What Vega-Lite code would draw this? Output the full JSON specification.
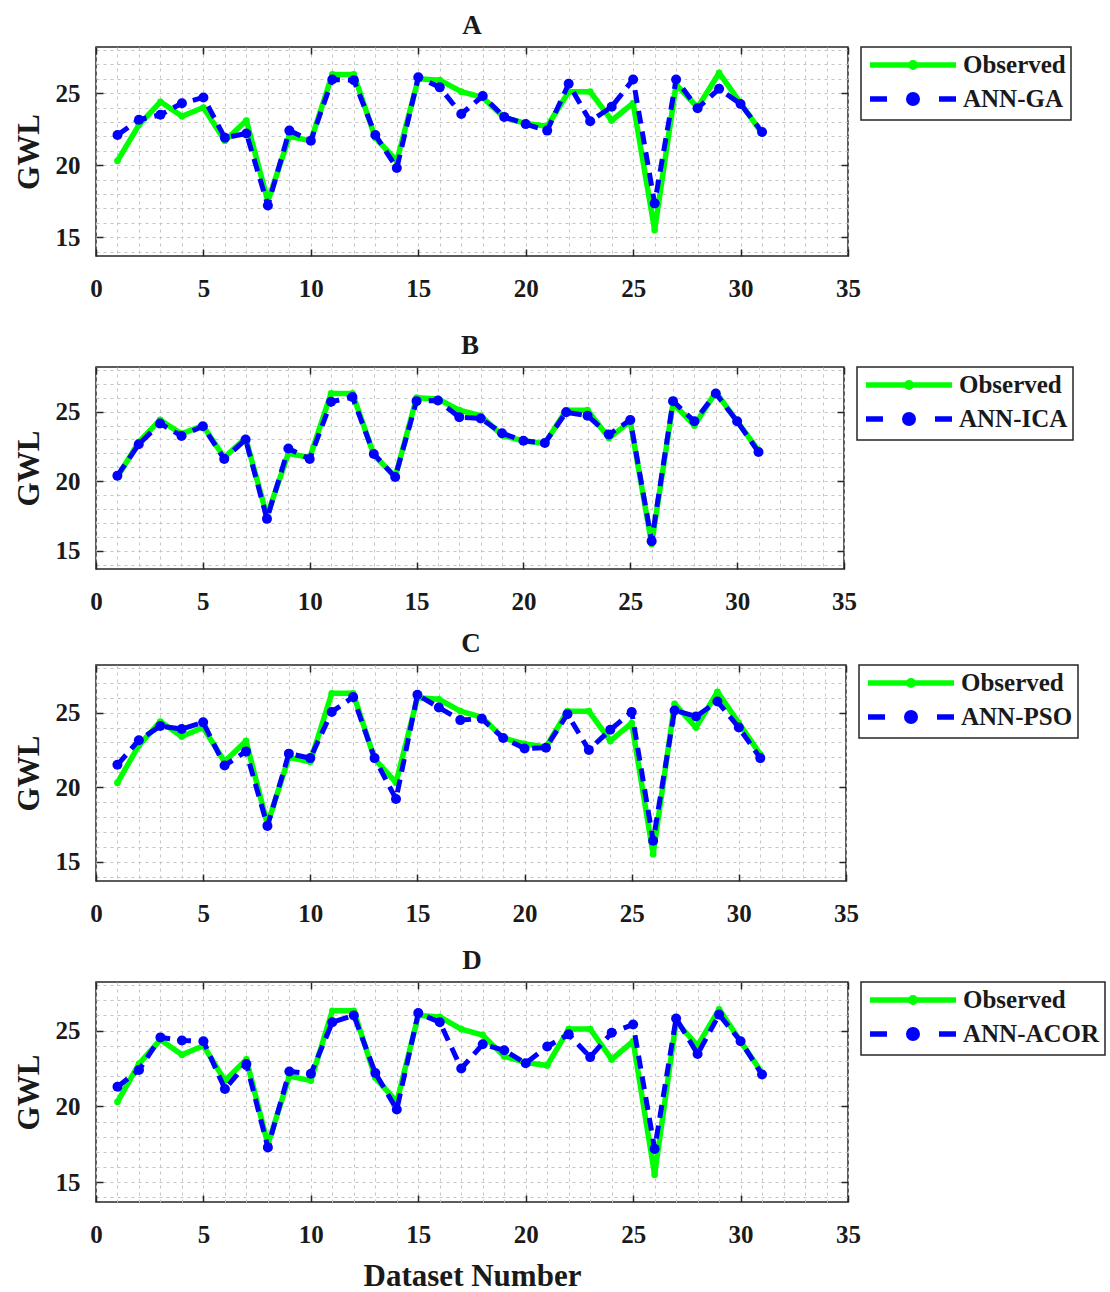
{
  "$schema": "https://vega.github.io/schema/vega-lite/v6.json",
  "padding": {"left": 12, "top": 11, "right": 0, "bottom": 0},
  "datasets": {
    "obs": [
      {"i":1,"s":"Observed","v":20.3},{"i":2,"s":"Observed","v":22.8},{"i":3,"s":"Observed","v":24.4},{"i":4,"s":"Observed","v":23.4},{"i":5,"s":"Observed","v":24.0},{"i":6,"s":"Observed","v":21.7},{"i":7,"s":"Observed","v":23.1},{"i":8,"s":"Observed","v":17.5},{"i":9,"s":"Observed","v":22.0},{"i":10,"s":"Observed","v":21.7},{"i":11,"s":"Observed","v":26.3},{"i":12,"s":"Observed","v":26.3},{"i":13,"s":"Observed","v":21.9},{"i":14,"s":"Observed","v":20.3},{"i":15,"s":"Observed","v":26.0},{"i":16,"s":"Observed","v":25.9},{"i":17,"s":"Observed","v":25.1},{"i":18,"s":"Observed","v":24.7},{"i":19,"s":"Observed","v":23.3},{"i":20,"s":"Observed","v":22.9},{"i":21,"s":"Observed","v":22.7},{"i":22,"s":"Observed","v":25.1},{"i":23,"s":"Observed","v":25.1},{"i":24,"s":"Observed","v":23.1},{"i":25,"s":"Observed","v":24.3},{"i":26,"s":"Observed","v":15.5},{"i":27,"s":"Observed","v":25.6},{"i":28,"s":"Observed","v":24.0},{"i":29,"s":"Observed","v":26.4},{"i":30,"s":"Observed","v":24.3},{"i":31,"s":"Observed","v":22.2}
    ],
    "ga": [
      {"i":1,"s":"ANN-GA","v":22.1},{"i":2,"s":"ANN-GA","v":23.15},{"i":3,"s":"ANN-GA","v":23.5},{"i":4,"s":"ANN-GA","v":24.3},{"i":5,"s":"ANN-GA","v":24.7},{"i":6,"s":"ANN-GA","v":21.9},{"i":7,"s":"ANN-GA","v":22.2},{"i":8,"s":"ANN-GA","v":17.2},{"i":9,"s":"ANN-GA","v":22.4},{"i":10,"s":"ANN-GA","v":21.7},{"i":11,"s":"ANN-GA","v":25.95},{"i":12,"s":"ANN-GA","v":25.9},{"i":13,"s":"ANN-GA","v":22.1},{"i":14,"s":"ANN-GA","v":19.8},{"i":15,"s":"ANN-GA","v":26.1},{"i":16,"s":"ANN-GA","v":25.4},{"i":17,"s":"ANN-GA","v":23.55},{"i":18,"s":"ANN-GA","v":24.8},{"i":19,"s":"ANN-GA","v":23.35},{"i":20,"s":"ANN-GA","v":22.85},{"i":21,"s":"ANN-GA","v":22.4},{"i":22,"s":"ANN-GA","v":25.65},{"i":23,"s":"ANN-GA","v":23.05},{"i":24,"s":"ANN-GA","v":24.05},{"i":25,"s":"ANN-GA","v":25.95},{"i":26,"s":"ANN-GA","v":17.35},{"i":27,"s":"ANN-GA","v":25.95},{"i":28,"s":"ANN-GA","v":23.95},{"i":29,"s":"ANN-GA","v":25.3},{"i":30,"s":"ANN-GA","v":24.25},{"i":31,"s":"ANN-GA","v":22.3}
    ],
    "ica": [
      {"i":1,"s":"ANN-ICA","v":20.4},{"i":2,"s":"ANN-ICA","v":22.65},{"i":3,"s":"ANN-ICA","v":24.15},{"i":4,"s":"ANN-ICA","v":23.25},{"i":5,"s":"ANN-ICA","v":23.95},{"i":6,"s":"ANN-ICA","v":21.6},{"i":7,"s":"ANN-ICA","v":23.0},{"i":8,"s":"ANN-ICA","v":17.3},{"i":9,"s":"ANN-ICA","v":22.35},{"i":10,"s":"ANN-ICA","v":21.6},{"i":11,"s":"ANN-ICA","v":25.7},{"i":12,"s":"ANN-ICA","v":26.05},{"i":13,"s":"ANN-ICA","v":21.95},{"i":14,"s":"ANN-ICA","v":20.3},{"i":15,"s":"ANN-ICA","v":25.75},{"i":16,"s":"ANN-ICA","v":25.8},{"i":17,"s":"ANN-ICA","v":24.6},{"i":18,"s":"ANN-ICA","v":24.5},{"i":19,"s":"ANN-ICA","v":23.45},{"i":20,"s":"ANN-ICA","v":22.9},{"i":21,"s":"ANN-ICA","v":22.75},{"i":22,"s":"ANN-ICA","v":24.95},{"i":23,"s":"ANN-ICA","v":24.7},{"i":24,"s":"ANN-ICA","v":23.35},{"i":25,"s":"ANN-ICA","v":24.4},{"i":26,"s":"ANN-ICA","v":15.7},{"i":27,"s":"ANN-ICA","v":25.75},{"i":28,"s":"ANN-ICA","v":24.3},{"i":29,"s":"ANN-ICA","v":26.3},{"i":30,"s":"ANN-ICA","v":24.3},{"i":31,"s":"ANN-ICA","v":22.1}
    ],
    "pso": [
      {"i":1,"s":"ANN-PSO","v":21.5},{"i":2,"s":"ANN-PSO","v":23.15},{"i":3,"s":"ANN-PSO","v":24.1},{"i":4,"s":"ANN-PSO","v":23.9},{"i":5,"s":"ANN-PSO","v":24.35},{"i":6,"s":"ANN-PSO","v":21.45},{"i":7,"s":"ANN-PSO","v":22.4},{"i":8,"s":"ANN-PSO","v":17.4},{"i":9,"s":"ANN-PSO","v":22.25},{"i":10,"s":"ANN-PSO","v":21.95},{"i":11,"s":"ANN-PSO","v":25.05},{"i":12,"s":"ANN-PSO","v":26.05},{"i":13,"s":"ANN-PSO","v":21.95},{"i":14,"s":"ANN-PSO","v":19.2},{"i":15,"s":"ANN-PSO","v":26.2},{"i":16,"s":"ANN-PSO","v":25.35},{"i":17,"s":"ANN-PSO","v":24.5},{"i":18,"s":"ANN-PSO","v":24.6},{"i":19,"s":"ANN-PSO","v":23.3},{"i":20,"s":"ANN-PSO","v":22.6},{"i":21,"s":"ANN-PSO","v":22.65},{"i":22,"s":"ANN-PSO","v":24.9},{"i":23,"s":"ANN-PSO","v":22.5},{"i":24,"s":"ANN-PSO","v":23.85},{"i":25,"s":"ANN-PSO","v":25.05},{"i":26,"s":"ANN-PSO","v":16.4},{"i":27,"s":"ANN-PSO","v":25.15},{"i":28,"s":"ANN-PSO","v":24.75},{"i":29,"s":"ANN-PSO","v":25.75},{"i":30,"s":"ANN-PSO","v":24.0},{"i":31,"s":"ANN-PSO","v":21.95}
    ],
    "acor": [
      {"i":1,"s":"ANN-ACOR","v":21.3},{"i":2,"s":"ANN-ACOR","v":22.4},{"i":3,"s":"ANN-ACOR","v":24.55},{"i":4,"s":"ANN-ACOR","v":24.35},{"i":5,"s":"ANN-ACOR","v":24.3},{"i":6,"s":"ANN-ACOR","v":21.15},{"i":7,"s":"ANN-ACOR","v":22.8},{"i":8,"s":"ANN-ACOR","v":17.3},{"i":9,"s":"ANN-ACOR","v":22.3},{"i":10,"s":"ANN-ACOR","v":22.15},{"i":11,"s":"ANN-ACOR","v":25.55},{"i":12,"s":"ANN-ACOR","v":26.0},{"i":13,"s":"ANN-ACOR","v":22.2},{"i":14,"s":"ANN-ACOR","v":19.8},{"i":15,"s":"ANN-ACOR","v":26.15},{"i":16,"s":"ANN-ACOR","v":25.55},{"i":17,"s":"ANN-ACOR","v":22.5},{"i":18,"s":"ANN-ACOR","v":24.1},{"i":19,"s":"ANN-ACOR","v":23.7},{"i":20,"s":"ANN-ACOR","v":22.85},{"i":21,"s":"ANN-ACOR","v":23.95},{"i":22,"s":"ANN-ACOR","v":24.75},{"i":23,"s":"ANN-ACOR","v":23.25},{"i":24,"s":"ANN-ACOR","v":24.85},{"i":25,"s":"ANN-ACOR","v":25.4},{"i":26,"s":"ANN-ACOR","v":17.2},{"i":27,"s":"ANN-ACOR","v":25.8},{"i":28,"s":"ANN-ACOR","v":23.45},{"i":29,"s":"ANN-ACOR","v":26.05},{"i":30,"s":"ANN-ACOR","v":24.3},{"i":31,"s":"ANN-ACOR","v":22.1}
    ]
  },
  "concat": [
    {
      "width": 752, "height": 209,
      "title": {"text": "A"},
      "layer": [
        {"data": {"name": "obs"}, "mark": {"type": "line", "strokeWidth": 5.5, "strokeJoin": "round"},
         "encoding": {
           "x": {"field": "i", "type": "quantitative", "scale": {"domain": [0, 35], "nice": false, "zero": false},
                 "axis": {"orient": "bottom", "values": [0,1,2,3,4,5,6,7,8,9,10,11,12,13,14,15,16,17,18,19,20,21,22,23,24,25,26,27,28,29,30,31,32,33,34,35], "labelExpr": "datum.value % 5 === 0 ? datum.label : ''", "tickOpacity": {"condition": {"test": "datum.value % 5 === 0", "value": 1}, "value": 0}, "title": " ", "titleFontSize": 10, "titlePadding": 5, "titleOpacity": 0}},
           "y": {"field": "v", "type": "quantitative", "scale": {"domain": [13.7, 28.2], "nice": false, "zero": false},
                 "axis": {"orient": "left", "values": [14,15,16,17,18,19,20,21,22,23,24,25,26,27,28], "labelExpr": "datum.value % 5 === 0 ? datum.label : ''", "tickOpacity": {"condition": {"test": "datum.value % 5 === 0", "value": 1}, "value": 0}, "title": "GWL", "titlePadding": 10}},
           "color": {"field": "s", "type": "nominal", "scale": {"domain": ["Observed", "ANN-GA"], "range": ["#00ff00", "#0000ff"]},
                     "legend": {"orient": "right", "offset": 12, "title": null, "padding": 5, "strokeColor": "#262626", "fillColor": "#ffffff", "labelFont": "Liberation Serif", "labelFontSize": 25, "labelFontWeight": "bold", "labelColor": "#1a1a1a", "labelLimit": 400, "symbolSize": 400, "symbolStrokeWidth": 5.5, "symbolOffset": 34, "labelOffset": 37, "rowPadding": 4,
                                "encoding": {"symbols": {"shape": {"condition": {"test": "datum.value === 'Observed'", "value": "M-4.3,0H4.3M0.225,0A0.225,0.225 0 1,1 -0.225,0A0.225,0.225 0 1,1 0.225,0Z"}, "value": "M-4.3,0H-2.6M2.6,0H4.3M0.425,0A0.425,0.425 0 1,1 -0.425,0A0.425,0.425 0 1,1 0.425,0Z"}, "fill": {"condition": {"test": "datum.value === 'Observed'", "value": "#00ff00"}, "value": "#0000ff"}, "fillOpacity": {"value": 1}}, "legend": {"strokeWidth": {"value": 1.5}}}}}
         }},
        {"data": {"name": "obs"}, "mark": {"type": "point", "filled": true, "size": 45, "color": "#00ff00", "opacity": 1},
         "encoding": {
           "x": {"field": "i", "type": "quantitative", "axis": {"orient": "top", "values": [0,5,10,15,20,25,30,35], "labels": false, "grid": false, "title": null}},
           "y": {"field": "v", "type": "quantitative", "axis": {"orient": "right", "values": [15,20,25], "labels": false, "grid": false, "title": null}}
         }},
        {"data": {"name": "ga"}, "mark": {"type": "line", "strokeWidth": 5, "strokeDash": [13, 8], "strokeJoin": "round"},
         "encoding": {
           "x": {"field": "i", "type": "quantitative", "axis": null},
           "y": {"field": "v", "type": "quantitative", "axis": null},
           "color": {"field": "s", "type": "nominal"}
         }},
        {"data": {"name": "ga"}, "mark": {"type": "point", "filled": true, "size": 100, "color": "#0000ff", "opacity": 1},
         "encoding": {
           "x": {"field": "i", "type": "quantitative", "axis": null},
           "y": {"field": "v", "type": "quantitative", "axis": null}
         }}
      ],
      "resolve": {"axis": {"x": "independent", "y": "independent"}}
    },
    {
      "width": 748, "height": 202,
      "title": {"text": "B"},
      "layer": [
        {"data": {"name": "obs"}, "mark": {"type": "line", "strokeWidth": 5.5, "strokeJoin": "round"},
         "encoding": {
           "x": {"field": "i", "type": "quantitative", "scale": {"domain": [0, 35], "nice": false, "zero": false},
                 "axis": {"orient": "bottom", "values": [0,1,2,3,4,5,6,7,8,9,10,11,12,13,14,15,16,17,18,19,20,21,22,23,24,25,26,27,28,29,30,31,32,33,34,35], "labelExpr": "datum.value % 5 === 0 ? datum.label : ''", "tickOpacity": {"condition": {"test": "datum.value % 5 === 0", "value": 1}, "value": 0}, "title": null}},
           "y": {"field": "v", "type": "quantitative", "scale": {"domain": [13.7, 28.2], "nice": false, "zero": false},
                 "axis": {"orient": "left", "values": [14,15,16,17,18,19,20,21,22,23,24,25,26,27,28], "labelExpr": "datum.value % 5 === 0 ? datum.label : ''", "tickOpacity": {"condition": {"test": "datum.value % 5 === 0", "value": 1}, "value": 0}, "title": "GWL", "titlePadding": 10}},
           "color": {"field": "s", "type": "nominal", "scale": {"domain": ["Observed", "ANN-ICA"], "range": ["#00ff00", "#0000ff"]},
                     "legend": {"orient": "right", "offset": 12, "title": null, "padding": 5, "strokeColor": "#262626", "fillColor": "#ffffff", "labelFont": "Liberation Serif", "labelFontSize": 25, "labelFontWeight": "bold", "labelColor": "#1a1a1a", "labelLimit": 400, "symbolSize": 400, "symbolStrokeWidth": 5.5, "symbolOffset": 34, "labelOffset": 37, "rowPadding": 4,
                                "encoding": {"symbols": {"shape": {"condition": {"test": "datum.value === 'Observed'", "value": "M-4.3,0H4.3M0.225,0A0.225,0.225 0 1,1 -0.225,0A0.225,0.225 0 1,1 0.225,0Z"}, "value": "M-4.3,0H-2.6M2.6,0H4.3M0.425,0A0.425,0.425 0 1,1 -0.425,0A0.425,0.425 0 1,1 0.425,0Z"}, "fill": {"condition": {"test": "datum.value === 'Observed'", "value": "#00ff00"}, "value": "#0000ff"}, "fillOpacity": {"value": 1}}, "legend": {"strokeWidth": {"value": 1.5}}}}}
         }},
        {"data": {"name": "obs"}, "mark": {"type": "point", "filled": true, "size": 45, "color": "#00ff00", "opacity": 1},
         "encoding": {
           "x": {"field": "i", "type": "quantitative", "axis": {"orient": "top", "values": [0,5,10,15,20,25,30,35], "labels": false, "grid": false, "title": null}},
           "y": {"field": "v", "type": "quantitative", "axis": {"orient": "right", "values": [15,20,25], "labels": false, "grid": false, "title": null}}
         }},
        {"data": {"name": "ica"}, "mark": {"type": "line", "strokeWidth": 5, "strokeDash": [13, 8], "strokeJoin": "round"},
         "encoding": {
           "x": {"field": "i", "type": "quantitative", "axis": null},
           "y": {"field": "v", "type": "quantitative", "axis": null},
           "color": {"field": "s", "type": "nominal"}
         }},
        {"data": {"name": "ica"}, "mark": {"type": "point", "filled": true, "size": 100, "color": "#0000ff", "opacity": 1},
         "encoding": {
           "x": {"field": "i", "type": "quantitative", "axis": null},
           "y": {"field": "v", "type": "quantitative", "axis": null}
         }}
      ],
      "resolve": {"axis": {"x": "independent", "y": "independent"}}
    },
    {
      "width": 750, "height": 216,
      "title": {"text": "C"},
      "layer": [
        {"data": {"name": "obs"}, "mark": {"type": "line", "strokeWidth": 5.5, "strokeJoin": "round"},
         "encoding": {
           "x": {"field": "i", "type": "quantitative", "scale": {"domain": [0, 35], "nice": false, "zero": false},
                 "axis": {"orient": "bottom", "values": [0,1,2,3,4,5,6,7,8,9,10,11,12,13,14,15,16,17,18,19,20,21,22,23,24,25,26,27,28,29,30,31,32,33,34,35], "labelExpr": "datum.value % 5 === 0 ? datum.label : ''", "tickOpacity": {"condition": {"test": "datum.value % 5 === 0", "value": 1}, "value": 0}, "title": " ", "titleFontSize": 1, "titlePadding": 4, "titleOpacity": 0}},
           "y": {"field": "v", "type": "quantitative", "scale": {"domain": [13.7, 28.2], "nice": false, "zero": false},
                 "axis": {"orient": "left", "values": [14,15,16,17,18,19,20,21,22,23,24,25,26,27,28], "labelExpr": "datum.value % 5 === 0 ? datum.label : ''", "tickOpacity": {"condition": {"test": "datum.value % 5 === 0", "value": 1}, "value": 0}, "title": "GWL", "titlePadding": 10}},
           "color": {"field": "s", "type": "nominal", "scale": {"domain": ["Observed", "ANN-PSO"], "range": ["#00ff00", "#0000ff"]},
                     "legend": {"orient": "right", "offset": 12, "title": null, "padding": 5, "strokeColor": "#262626", "fillColor": "#ffffff", "labelFont": "Liberation Serif", "labelFontSize": 25, "labelFontWeight": "bold", "labelColor": "#1a1a1a", "labelLimit": 400, "symbolSize": 400, "symbolStrokeWidth": 5.5, "symbolOffset": 34, "labelOffset": 37, "rowPadding": 4,
                                "encoding": {"symbols": {"shape": {"condition": {"test": "datum.value === 'Observed'", "value": "M-4.3,0H4.3M0.225,0A0.225,0.225 0 1,1 -0.225,0A0.225,0.225 0 1,1 0.225,0Z"}, "value": "M-4.3,0H-2.6M2.6,0H4.3M0.425,0A0.425,0.425 0 1,1 -0.425,0A0.425,0.425 0 1,1 0.425,0Z"}, "fill": {"condition": {"test": "datum.value === 'Observed'", "value": "#00ff00"}, "value": "#0000ff"}, "fillOpacity": {"value": 1}}, "legend": {"strokeWidth": {"value": 1.5}}}}}
         }},
        {"data": {"name": "obs"}, "mark": {"type": "point", "filled": true, "size": 45, "color": "#00ff00", "opacity": 1},
         "encoding": {
           "x": {"field": "i", "type": "quantitative", "axis": {"orient": "top", "values": [0,5,10,15,20,25,30,35], "labels": false, "grid": false, "title": null}},
           "y": {"field": "v", "type": "quantitative", "axis": {"orient": "right", "values": [15,20,25], "labels": false, "grid": false, "title": null}}
         }},
        {"data": {"name": "pso"}, "mark": {"type": "line", "strokeWidth": 5, "strokeDash": [13, 8], "strokeJoin": "round"},
         "encoding": {
           "x": {"field": "i", "type": "quantitative", "axis": null},
           "y": {"field": "v", "type": "quantitative", "axis": null},
           "color": {"field": "s", "type": "nominal"}
         }},
        {"data": {"name": "pso"}, "mark": {"type": "point", "filled": true, "size": 100, "color": "#0000ff", "opacity": 1},
         "encoding": {
           "x": {"field": "i", "type": "quantitative", "axis": null},
           "y": {"field": "v", "type": "quantitative", "axis": null}
         }}
      ],
      "resolve": {"axis": {"x": "independent", "y": "independent"}}
    },
    {
      "width": 752, "height": 220,
      "title": {"text": "D"},
      "layer": [
        {"data": {"name": "obs"}, "mark": {"type": "line", "strokeWidth": 5.5, "strokeJoin": "round"},
         "encoding": {
           "x": {"field": "i", "type": "quantitative", "scale": {"domain": [0, 35], "nice": false, "zero": false},
                 "axis": {"orient": "bottom", "values": [0,1,2,3,4,5,6,7,8,9,10,11,12,13,14,15,16,17,18,19,20,21,22,23,24,25,26,27,28,29,30,31,32,33,34,35], "labelExpr": "datum.value % 5 === 0 ? datum.label : ''", "tickOpacity": {"condition": {"test": "datum.value % 5 === 0", "value": 1}, "value": 0}, "title": "Dataset Number", "titlePadding": 14}},
           "y": {"field": "v", "type": "quantitative", "scale": {"domain": [13.7, 28.2], "nice": false, "zero": false},
                 "axis": {"orient": "left", "values": [14,15,16,17,18,19,20,21,22,23,24,25,26,27,28], "labelExpr": "datum.value % 5 === 0 ? datum.label : ''", "tickOpacity": {"condition": {"test": "datum.value % 5 === 0", "value": 1}, "value": 0}, "title": "GWL", "titlePadding": 10}},
           "color": {"field": "s", "type": "nominal", "scale": {"domain": ["Observed", "ANN-ACOR"], "range": ["#00ff00", "#0000ff"]},
                     "legend": {"orient": "right", "offset": 12, "title": null, "padding": 5, "strokeColor": "#262626", "fillColor": "#ffffff", "labelFont": "Liberation Serif", "labelFontSize": 25, "labelFontWeight": "bold", "labelColor": "#1a1a1a", "labelLimit": 400, "symbolSize": 400, "symbolStrokeWidth": 5.5, "symbolOffset": 34, "labelOffset": 37, "rowPadding": 4,
                                "encoding": {"symbols": {"shape": {"condition": {"test": "datum.value === 'Observed'", "value": "M-4.3,0H4.3M0.225,0A0.225,0.225 0 1,1 -0.225,0A0.225,0.225 0 1,1 0.225,0Z"}, "value": "M-4.3,0H-2.6M2.6,0H4.3M0.425,0A0.425,0.425 0 1,1 -0.425,0A0.425,0.425 0 1,1 0.425,0Z"}, "fill": {"condition": {"test": "datum.value === 'Observed'", "value": "#00ff00"}, "value": "#0000ff"}, "fillOpacity": {"value": 1}}, "legend": {"strokeWidth": {"value": 1.5}}}}}
         }},
        {"data": {"name": "obs"}, "mark": {"type": "point", "filled": true, "size": 45, "color": "#00ff00", "opacity": 1},
         "encoding": {
           "x": {"field": "i", "type": "quantitative", "axis": {"orient": "top", "values": [0,5,10,15,20,25,30,35], "labels": false, "grid": false, "title": null}},
           "y": {"field": "v", "type": "quantitative", "axis": {"orient": "right", "values": [15,20,25], "labels": false, "grid": false, "title": null}}
         }},
        {"data": {"name": "acor"}, "mark": {"type": "line", "strokeWidth": 5, "strokeDash": [13, 8], "strokeJoin": "round"},
         "encoding": {
           "x": {"field": "i", "type": "quantitative", "axis": null},
           "y": {"field": "v", "type": "quantitative", "axis": null},
           "color": {"field": "s", "type": "nominal"}
         }},
        {"data": {"name": "acor"}, "mark": {"type": "point", "filled": true, "size": 100, "color": "#0000ff", "opacity": 1},
         "encoding": {
           "x": {"field": "i", "type": "quantitative", "axis": null},
           "y": {"field": "v", "type": "quantitative", "axis": null}
         }}
      ],
      "resolve": {"axis": {"x": "independent", "y": "independent"}}
    }
  ],
  "columns": 1,
  "spacing": 14,
  "resolve": {"scale": {"color": "independent", "x": "independent", "y": "independent"}, "legend": {"color": "independent"}},
  "config": {
    "font": "Liberation Serif",
    "view": {"stroke": "#262626", "strokeWidth": 1.5},
    "title": {"font": "Liberation Serif", "fontSize": 27, "fontWeight": "bold", "color": "#1a1a1a", "offset": -2},
    "axis": {"labelFont": "Liberation Serif", "labelFontSize": 25, "labelFontWeight": "bold", "labelColor": "#1a1a1a", "titleFont": "Liberation Serif", "titleFontSize": 31, "titleFontWeight": "bold", "titleColor": "#1a1a1a", "grid": true, "gridDash": [3, 4], "gridColor": "#c4c4c4", "gridWidth": 1, "domain": false, "tickSize": -7, "tickWidth": 1.5, "tickColor": "#262626", "labelOverlap": false, "labelFlush": false},
    "axisX": {"labelPadding": 27},
    "axisY": {"labelPadding": 23}
  }
}
